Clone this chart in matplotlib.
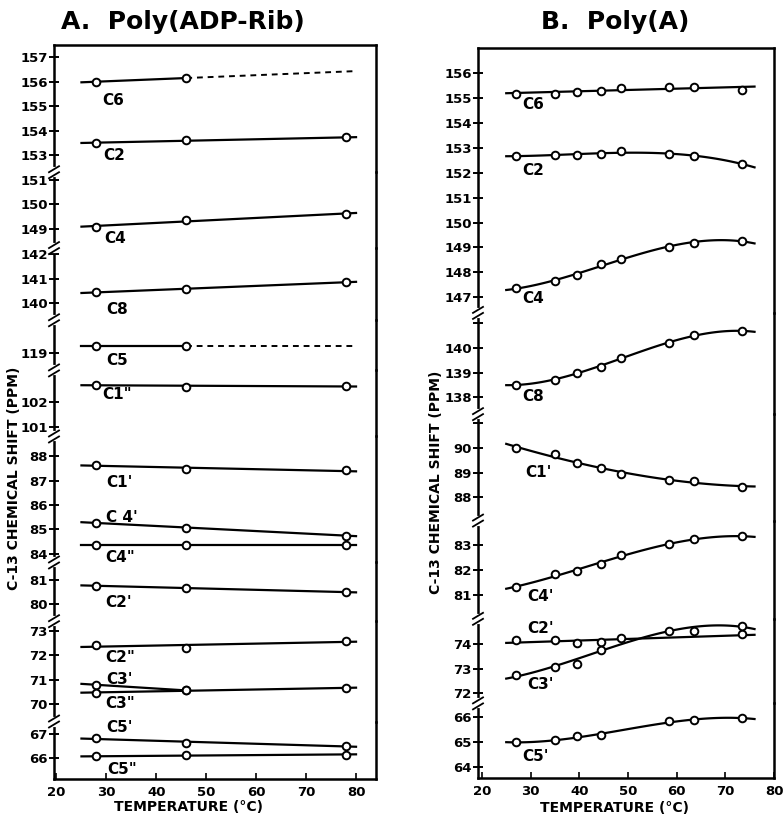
import numpy as np
import matplotlib
matplotlib.use("Agg")
import matplotlib.pyplot as plt
from matplotlib import font_manager
from matplotlib.lines import Line2D

W, H = 784, 818

# ---------------- Panel A: Poly(ADP-Rib) ----------------
a_temp = [28, 46, 78]
a_c6 = [156.0, 156.15]
a_c2 = [153.5, 153.6, 153.72]
a_c4 = [149.08, 149.33, 149.6]
a_c8 = [140.45, 140.57, 140.86]
a_c5 = [119.28, 119.28]
a_c1pp = [102.72, 102.63, 102.66]
a_c1p = [87.65, 87.45, 87.41]
a_c4p = [85.27, 85.07, 84.75]
a_c4pp = [84.38, 84.38, 84.38]
a_c2p = [80.75, 80.65, 80.49]
a_c2pp = [72.44, 72.3, 72.6]
a_c3p = [70.8, 70.57]
a_c3pp = [70.48, 70.57, 70.67]
a_c5p = [66.82, 66.62, 66.5]
a_c5pp = [66.07, 66.12, 66.15]

a_names = ["C6", "C2", "C4", "C8", "C5", 'C1"', "C1'", "C 4'", 'C4"',
           "C2'", 'C2"', "C3'", 'C3"', "C5'", 'C5"']
a_series = [a_c6, a_c2, a_c4, a_c8, a_c5, a_c1pp, a_c1p, a_c4p, a_c4pp,
            a_c2p, a_c2pp, a_c3p, a_c3pp, a_c5p, a_c5pp]
a_seg = [0, 0, 1, 2, 3, 4, 5, 5, 5, 6, 7, 7, 7, 8, 8]
a_dashed = ["C6", "C5"]
a_short = ["C3'"]
a_label_xy = [(29.2, 155.25), (29.3, 153.0), (29.6, 148.6), (30, 139.75),
              (30, 118.7), (29.2, 102.3), (30, 86.9), (30, 85.5),
              (29.8, 83.85), (29.8, 80.07), (29.8, 71.9), (30, 71.0),
              (29.8, 70.02), (30, 67.25), (30.2, 65.55)]

a_segments = [(152.3, 157.5), (148.2, 151.3), (139.3, 142.25), (118.3, 120.35),
              (100.6, 103.3), (83.65, 88.8), (79.3, 81.7), (69.3, 73.4),
              (65.15, 67.5)]
a_ticks = [[153, 154, 155, 156, 157], [149, 150, 151], [140, 141, 142], [119],
           [101, 102], [84, 85, 86, 87, 88], [80, 81], [70, 71, 72, 73], [66, 67]]

# ---------------- Panel B: Poly(A) ----------------
b_temp = [27, 35, 39.5, 44.5, 48.5, 58.5, 63.5, 73.5]
b_c6 = [155.19, 155.19, 155.27, 155.29, 155.42, 155.46, 155.46, 155.33]
b_c2 = [152.68, 152.72, 152.72, 152.76, 152.89, 152.75, 152.68, 152.36]
b_c4 = [147.37, 147.64, 147.88, 148.33, 148.55, 149.03, 149.18, 149.26]
b_c8 = [138.5, 138.72, 139.0, 139.24, 139.59, 140.18, 140.51, 140.67]
b_c1p = [90.0, 89.73, 89.37, 89.17, 88.96, 88.69, 88.67, 88.43]
b_c4p = [81.33, 81.84, 81.97, 82.26, 82.62, 83.06, 83.24, 83.37]
b_c2p = [74.13, 74.13, 74.04, 74.07, np.nan, np.nan, np.nan, 74.39]
b_c3p = [72.73, 73.07, 73.17, 73.74, 74.24, 74.52, 74.5, 74.73]
b_c5p = [64.98, 65.06, 65.23, 65.27, np.nan, 65.83, 65.87, 65.96]

b_names = ["C6", "C2", "C4", "C8", "C1'", "C4'", "C2'", "C3'", "C5'"]
b_series = [b_c6, b_c2, b_c4, b_c8, b_c1p, b_c4p, b_c2p, b_c3p, b_c5p]
b_seg = [0, 0, 0, 1, 2, 3, 4, 4, 5]
b_fit_deg = [1, 3, 3, 3, 3, 3, 1, 3, 3]
b_label_xy = [(28.3, 154.75), (28.3, 152.1), (28.3, 146.95), (28.3, 138.05),
              (29.0, 89.0), (29.3, 80.93), (29.3, 74.6), (29.3, 72.37),
              (28.3, 64.4)]

b_segments = [(146.37, 157.02), (137.33, 141.4), (87.07, 91.35), (80.05, 84.0),
              (71.6, 75.0), (63.55, 66.55)]
b_ticks = [list(range(147, 157)), [138, 139, 140, 141], [88, 89, 90, 91],
           [81, 82, 83], [72, 73, 74], [64, 65, 66]]
b_unlabeled = [141, 91]

# ---------------- style ----------------
names = {f.name for f in font_manager.fontManager.ttflist}
narrow = "Liberation Sans Narrow" in names
plt.rcParams["font.family"] = ["Liberation Sans Narrow" if narrow else "DejaVu Sans", "DejaVu Sans"]
plt.rcParams["font.weight"] = "bold"
fs_tick, fs_lab, fs_ax = (13, 12.5, 13) if narrow else (9.5, 11, 10)

fig = plt.figure(figsize=(W / 100, H / 100), dpi=100)


def make_panel(x0, x1, top, bot, segs, ticks, xlim, unlabeled=()):
    total = sum(hi - lo for lo, hi in segs)
    axes, bounds = [], []
    y = top
    for i, (lo, hi) in enumerate(segs):
        h = (hi - lo) / total * (bot - top)
        ax = fig.add_axes([x0 / W, 1 - (y + h) / H, (x1 - x0) / W, h / H])
        ax.set_ylim(lo, hi)
        ax.set_xlim(*xlim)
        ax.patch.set_alpha(0)
        for s in ax.spines.values():
            s.set_linewidth(1.8)
        ax.spines["top"].set_visible(i == 0)
        ax.spines["bottom"].set_visible(i == len(segs) - 1)
        ax.set_yticks(ticks[i])
        ax.set_yticklabels([("" if t in unlabeled else str(t)) for t in ticks[i]])
        ax.tick_params(axis="y", direction="inout", length=7, width=1.4,
                       labelsize=fs_tick, pad=1, right=False)
        if i == len(segs) - 1:
            ax.set_xticks(range(20, 90, 10))
            ax.tick_params(axis="x", direction="in", length=4, width=1.2,
                           labelsize=fs_tick, pad=5, top=False)
        else:
            ax.tick_params(axis="x", bottom=False, labelbottom=False, top=False)
        axes.append(ax)
        y += h
        if i < len(segs) - 1:
            bounds.append(y)
    # axis-break marks on the left spine
    for yb in bounds:
        fig.add_artist(Line2D([x0 / W] * 2, [1 - (yb - 3) / H, 1 - (yb + 3) / H],
                              color="white", lw=3, transform=fig.transFigure))
        for dy in (-3, 3):
            yy = yb + dy
            fig.add_artist(Line2D([(x0 - 5) / W, (x0 + 5) / W],
                                  [1 - (yy + 3) / H, 1 - (yy - 3) / H],
                                  color="black", lw=1.3, transform=fig.transFigure))
    return axes


mk = dict(marker="o", ms=5.5, mfc="white", mec="black", mew=1.4, ls="none",
          zorder=4, clip_on=False)

# Panel A
axA = make_panel(54, 376, 45, 779, a_segments, a_ticks, (19.5, 84))
for name, vals, seg, (lx, ly) in zip(a_names, a_series, a_seg, a_label_xy):
    ax = axA[seg]
    x = a_temp[:len(vals)]
    coef = np.polyfit(x, vals, 1)
    if name in a_dashed:
        xs = np.array([25, 46])
        ax.plot(xs, np.polyval(coef, xs), color="black", lw=1.6)
        xd = np.array([46, 80])
        ax.plot(xd, np.polyval(coef, xd), color="black", lw=1.4, ls=(0, (3, 2.5)))
    else:
        xs = np.array([25, 46 if name in a_short else 80])
        ax.plot(xs, np.polyval(coef, xs), color="black", lw=1.6)
    ax.plot(x, vals, **mk)
    ax.text(lx, ly, name, ha="left", va="center", fontsize=fs_lab)

# Panel B
axB = make_panel(478, 774, 48, 778, b_segments, b_ticks, (19.2, 80), b_unlabeled)
bt = np.array(b_temp)
for name, vals, seg, deg, (lx, ly) in zip(b_names, b_series, b_seg, b_fit_deg, b_label_xy):
    ax = axB[seg]
    v = np.array(vals, dtype=float)
    ok = ~np.isnan(v)
    coef = np.polyfit(bt[ok], v[ok], deg)
    xs = np.linspace(25, 76, 120)
    ax.plot(xs, np.polyval(coef, xs), color="black", lw=1.6)
    ax.plot(bt[ok], v[ok], **mk)
    ax.text(lx, ly, name, ha="left", va="center", fontsize=fs_lab)

# titles and axis labels
fig.text(183 / W, 1 - 22 / H, "A.  Poly(ADP-Rib)", ha="center", va="center",
         fontsize=18, family="DejaVu Sans")
fig.text(615 / W, 1 - 22 / H, "B.  Poly(A)", ha="center", va="center",
         fontsize=18, family="DejaVu Sans")
fig.text(14 / W, 1 - 478 / H, "C-13 CHEMICAL SHIFT (PPM)", rotation=90,
         ha="center", va="center", fontsize=fs_ax)
fig.text(436 / W, 1 - 482 / H, "C-13 CHEMICAL SHIFT (PPM)", rotation=90,
         ha="center", va="center", fontsize=fs_ax)
fig.text(188 / W, 1 - 807 / H, "TEMPERATURE (\u00b0C)", ha="center", va="center",
         fontsize=fs_ax)
fig.text(614 / W, 1 - 808 / H, "TEMPERATURE (\u00b0C)", ha="center", va="center",
         fontsize=fs_ax)

fig.savefig("out.png", dpi=100)
